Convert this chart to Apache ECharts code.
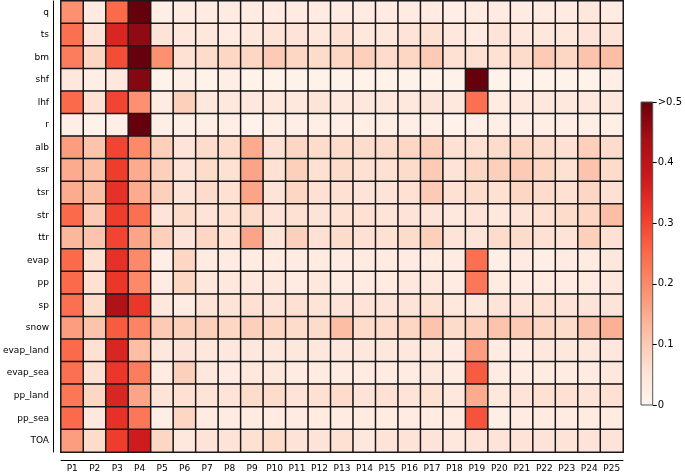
<!DOCTYPE html>
<html>
<head>
<meta charset="utf-8">
<script src="https://cdn.jsdelivr.net/npm/echarts@6/dist/echarts.min.js"></script>
<style>
  html, body { margin: 0; padding: 0; background: #fff; }
  #chart { width: 685px; height: 473px; }
</style>
</head>
<body>
<div id="chart"></div>
<script>
// 行/列标签
const rowNames = ['q', 'ts', 'bm', 'shf', 'lhf', 'r', 'alb', 'ssr', 'tsr', 'str', 'ttr',
    'evap', 'pp', 'sp', 'snow', 'evap_land', 'evap_sea', 'pp_land', 'pp_sea', 'TOA'];
const colNames = ['P1', 'P2', 'P3', 'P4', 'P5', 'P6', 'P7', 'P8', 'P9', 'P10', 'P11', 'P12', 'P13',
    'P14', 'P15', 'P16', 'P17', 'P18', 'P19', 'P20', 'P21', 'P22', 'P23', 'P24', 'P25'];

// 每行数值 (P1..P25)
const values = [
    /* q */         [0.19, 0.03, 0.25, 0.55, 0.02, 0.03, 0.03, 0.03, 0.03, 0.03, 0.03, 0.03, 0.03, 0.03, 0.03, 0.03, 0.03, 0.02, 0.03, 0.03, 0.03, 0.03, 0.03, 0.04, 0.03],
    /* ts */        [0.24, 0.05, 0.35, 0.46, 0.05, 0.04, 0.04, 0.03, 0.04, 0.05, 0.05, 0.04, 0.06, 0.04, 0.04, 0.05, 0.06, 0.04, 0.03, 0.05, 0.04, 0.04, 0.04, 0.05, 0.05],
    /* bm */        [0.22, 0.08, 0.29, 0.55, 0.19, 0.06, 0.07, 0.08, 0.08, 0.10, 0.08, 0.07, 0.08, 0.09, 0.07, 0.08, 0.10, 0.06, 0.06, 0.06, 0.07, 0.10, 0.08, 0.11, 0.12],
    /* shf */       [0.04, 0.02, 0.04, 0.47, 0.01, 0.02, 0.01, 0.02, 0.01, 0.01, 0.01, 0.01, 0.01, 0.01, 0.01, 0.01, 0.01, 0.01, 0.55, 0.01, 0.01, 0.01, 0.01, 0.01, 0.02],
    /* lhf */       [0.25, 0.06, 0.30, 0.19, 0.03, 0.09, 0.04, 0.04, 0.04, 0.04, 0.04, 0.05, 0.04, 0.04, 0.04, 0.04, 0.05, 0.04, 0.24, 0.03, 0.04, 0.04, 0.04, 0.04, 0.04],
    /* r */         [0.02, 0.01, 0.02, 0.55, 0.02, 0.02, 0.02, 0.02, 0.01, 0.02, 0.02, 0.02, 0.02, 0.02, 0.02, 0.02, 0.02, 0.01, 0.02, 0.02, 0.02, 0.02, 0.02, 0.02, 0.02],
    /* alb */       [0.17, 0.11, 0.30, 0.20, 0.09, 0.05, 0.07, 0.07, 0.15, 0.06, 0.08, 0.07, 0.07, 0.07, 0.07, 0.08, 0.09, 0.06, 0.06, 0.07, 0.08, 0.07, 0.06, 0.09, 0.07],
    /* ssr */       [0.15, 0.12, 0.31, 0.15, 0.09, 0.05, 0.07, 0.06, 0.16, 0.06, 0.09, 0.06, 0.07, 0.06, 0.06, 0.07, 0.10, 0.05, 0.08, 0.09, 0.10, 0.08, 0.06, 0.11, 0.07],
    /* tsr */       [0.15, 0.12, 0.33, 0.15, 0.09, 0.05, 0.07, 0.06, 0.16, 0.05, 0.08, 0.06, 0.06, 0.05, 0.05, 0.06, 0.10, 0.06, 0.07, 0.06, 0.08, 0.07, 0.06, 0.08, 0.06],
    /* str */       [0.25, 0.10, 0.31, 0.24, 0.05, 0.07, 0.05, 0.06, 0.07, 0.05, 0.06, 0.05, 0.06, 0.06, 0.05, 0.05, 0.05, 0.04, 0.05, 0.04, 0.05, 0.06, 0.07, 0.08, 0.12],
    /* ttr */       [0.13, 0.11, 0.30, 0.16, 0.09, 0.05, 0.08, 0.06, 0.16, 0.05, 0.09, 0.06, 0.07, 0.06, 0.06, 0.07, 0.09, 0.05, 0.05, 0.07, 0.07, 0.06, 0.05, 0.09, 0.06],
    /* evap */      [0.25, 0.06, 0.33, 0.20, 0.02, 0.08, 0.03, 0.03, 0.03, 0.03, 0.03, 0.03, 0.03, 0.03, 0.03, 0.03, 0.03, 0.03, 0.24, 0.02, 0.03, 0.02, 0.03, 0.03, 0.04],
    /* pp */        [0.25, 0.06, 0.32, 0.20, 0.03, 0.08, 0.04, 0.04, 0.04, 0.04, 0.03, 0.04, 0.03, 0.03, 0.03, 0.04, 0.04, 0.03, 0.23, 0.03, 0.03, 0.03, 0.03, 0.03, 0.04],
    /* sp */        [0.24, 0.07, 0.42, 0.32, 0.04, 0.03, 0.05, 0.05, 0.06, 0.05, 0.06, 0.05, 0.05, 0.05, 0.05, 0.05, 0.06, 0.04, 0.04, 0.05, 0.05, 0.06, 0.05, 0.05, 0.05],
    /* snow */      [0.17, 0.11, 0.27, 0.21, 0.10, 0.09, 0.09, 0.08, 0.09, 0.08, 0.07, 0.07, 0.12, 0.07, 0.07, 0.08, 0.11, 0.07, 0.09, 0.11, 0.10, 0.08, 0.07, 0.11, 0.14],
    /* evap_land */ [0.25, 0.06, 0.35, 0.12, 0.04, 0.05, 0.04, 0.04, 0.04, 0.04, 0.04, 0.04, 0.04, 0.04, 0.04, 0.04, 0.04, 0.03, 0.17, 0.03, 0.03, 0.04, 0.04, 0.04, 0.04],
    /* evap_sea */  [0.24, 0.06, 0.32, 0.22, 0.03, 0.09, 0.04, 0.03, 0.04, 0.04, 0.03, 0.03, 0.03, 0.03, 0.03, 0.03, 0.04, 0.03, 0.27, 0.03, 0.03, 0.03, 0.03, 0.03, 0.04],
    /* pp_land */   [0.23, 0.08, 0.35, 0.16, 0.05, 0.06, 0.05, 0.05, 0.07, 0.07, 0.05, 0.06, 0.07, 0.05, 0.06, 0.05, 0.06, 0.04, 0.15, 0.04, 0.05, 0.06, 0.06, 0.05, 0.06],
    /* pp_sea */    [0.25, 0.04, 0.33, 0.23, 0.02, 0.08, 0.03, 0.03, 0.03, 0.03, 0.03, 0.03, 0.03, 0.03, 0.03, 0.03, 0.03, 0.03, 0.28, 0.02, 0.03, 0.03, 0.03, 0.03, 0.03],
    /* TOA */       [0.17, 0.07, 0.31, 0.37, 0.08, 0.04, 0.05, 0.05, 0.06, 0.07, 0.05, 0.05, 0.06, 0.04, 0.05, 0.05, 0.05, 0.04, 0.05, 0.05, 0.05, 0.05, 0.05, 0.05, 0.05]
];

// 色带刻度
const colorbarMax = 0.5;
const colorbarTicks = [0, 0.1, 0.2, 0.3, 0.4, 0.5];

// Reds 色表
const reds = ['#fff5f0', '#fee0d2', '#fcbba1', '#fc9272', '#fb6a4a', '#ef3b2c', '#cb181d', '#a50f15', '#67000d'];

const heatData = [];
values.forEach((row, yi) => {
    row.forEach((v, xi) => heatData.push([xi, yi, v]));
});

// 色带渐变 (上深下浅)
const barGradient = new echarts.graphic.LinearGradient(0, 0, 0, 1,
    reds.slice().reverse().map((c, i) => ({ offset: i / (reds.length - 1), color: c })));

const font = 'DejaVu Sans';
const chart = echarts.init(document.getElementById('chart'), null, { renderer: 'canvas' });

const option = {
    animation: false,
    textStyle: { fontFamily: font },
    grid: [
        { left: 57, top: 1, width: 566, height: 451 },
        { left: 641, top: 102, width: 18, height: 303, show: true,
          backgroundColor: barGradient, borderColor: '#555', borderWidth: 1 }
    ],
    xAxis: [
        {
            type: 'category', data: colNames, gridIndex: 0, position: 'bottom', offset: 8,
            axisLine: { lineStyle: { color: '#000', width: 1 } },
            axisTick: { alignWithLabel: true, length: 4, lineStyle: { color: '#000' } },
            axisLabel: { fontSize: 9, color: '#000', margin: 4, interval: 0, fontFamily: font },
            splitLine: { show: false }
        },
        {
            type: 'category', data: [''], gridIndex: 1, show: false
        }
    ],
    yAxis: [
        {
            type: 'category', data: rowNames, gridIndex: 0, inverse: true, offset: 8,
            axisLine: { lineStyle: { color: '#000', width: 1 } },
            axisTick: { alignWithLabel: true, length: 4, lineStyle: { color: '#000' } },
            axisLabel: { fontSize: 9, color: '#000', margin: 4, interval: 0, fontFamily: font },
            splitLine: { show: false }
        },
        {
            type: 'value', gridIndex: 1, min: 0, max: colorbarMax, interval: 0.1, position: 'right',
            axisLine: { show: false },
            axisTick: { show: true, length: 4, lineStyle: { color: '#000' } },
            axisLabel: {
                fontSize: 10, color: '#000', margin: 5, fontFamily: font,
                formatter: v => (colorbarTicks.indexOf(v) >= 0 && v === colorbarMax) ? '>' + v : String(v)
            },
            splitLine: { show: false }
        }
    ],
    visualMap: {
        show: false,
        type: 'continuous',
        seriesIndex: 0,
        min: 0,
        max: colorbarMax,
        inRange: { color: reds },
        outOfRange: { color: '#67000d' }
    },
    series: [
        {
            type: 'heatmap',
            xAxisIndex: 0,
            yAxisIndex: 0,
            data: heatData,
            itemStyle: { borderColor: '#1a1a1a', borderWidth: 1.5 },
            emphasis: { disabled: true }
        }
    ]
};

chart.setOption(option);
</script>
</body>
</html>
